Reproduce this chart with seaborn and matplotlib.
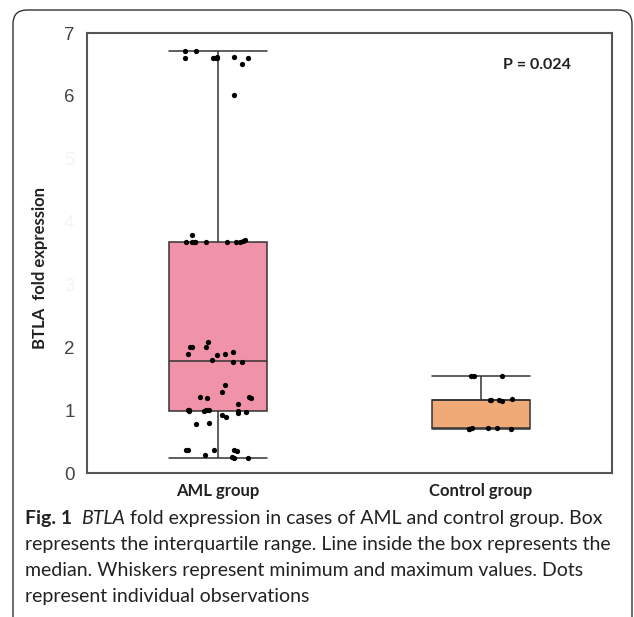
import numpy as np
import pandas as pd
import matplotlib
matplotlib.use("Agg")
import matplotlib.pyplot as plt
import seaborn as sns
from matplotlib.patches import FancyBboxPatch

# values
groups = ["AML group", "Control group"]
aml_values = [6.71, 6.71, 6.61, 6.62, 6.60, 6.61, 6.61, 6.62, 6.61, 6.51, 6.02,
              3.79, 3.71, 3.69, 3.68, 3.68, 3.68, 3.68, 3.68, 3.68, 3.68, 3.68,
              2.09, 2.00, 2.00, 2.00, 1.92, 1.90, 1.89, 1.88, 1.80, 1.77, 1.76,
              1.40, 1.29, 1.21, 1.20, 1.20, 1.21, 1.10,
              1.01, 1.01, 1.00, 1.00, 0.99, 0.99, 0.98, 0.97, 0.96, 0.93,
              0.89, 0.80, 0.78,
              0.37, 0.37, 0.36, 0.37, 0.35, 0.29, 0.25, 0.24, 0.24]
control_values = [1.55, 1.55, 1.54,
                  1.16, 1.16, 1.15, 1.16, 1.17,
                  0.70, 0.71, 0.70, 0.70, 0.71, 0.71]
box_colors = ["#f093a8", "#efaa78"]
y_ticks = [0, 1, 2, 3, 4, 5, 6, 7]
faded_ticks = [3, 4, 5]
p_text = "P = 0.024"
y_label = "BTLA  fold expression"
caption_bold = "Fig. 1"
caption_italic = "BTLA"
caption_rest = " fold expression in cases of AML and control group. Box"
caption_lines = ["represents the interquartile range. Line inside the box represents the",
                 "median. Whiskers represent minimum and maximum values. Dots",
                 "represent individual observations"]

df = pd.DataFrame({
    "group": [groups[0]] * len(aml_values) + [groups[1]] * len(control_values),
    "value": aml_values + control_values,
})

sns.set_style("white")
plt.rcParams["font.family"] = ["Lato", "DejaVu Sans"]

W, H = 634, 617
fig = plt.figure(figsize=(W / 100, H / 100), dpi=100)
ax = fig.add_axes([87 / W, 1 - 473 / H, 525 / W, 440 / H])

sns.boxplot(data=df, x="group", y="value", hue="group", palette=box_colors,
            saturation=1, width=0.375, whis=(0, 100), linewidth=1.1,
            linecolor="#333333", fliersize=0, legend=False, ax=ax)

# caps as wide as the boxes
for line in ax.lines:
    xs, ys = np.asarray(line.get_xdata()), np.asarray(line.get_ydata())
    if len(xs) == 2 and ys[0] == ys[1]:
        c = xs.mean()
        line.set_xdata([c - 0.1875, c + 0.1875])

np.random.seed(11)
sns.stripplot(data=df, x="group", y="value", color="black", size=3.8,
              jitter=0.13, ax=ax, zorder=3)

ax.set_xlim(-0.5, 1.5)
ax.set_ylim(0, 7)
ax.set_yticks(y_ticks)
ax.set_yticklabels([str(t) for t in y_ticks])
ax.tick_params(axis="y", length=7, width=1, color="#555555", pad=2,
               labelsize=13.5, labelcolor="#444444")
ax.tick_params(axis="x", length=0, pad=7, labelsize=12)
for lbl in ax.get_yticklabels():
    lbl.set_fontfamily(["Liberation Sans Narrow", "Liberation Sans"])
for lbl in ax.get_xticklabels():
    lbl.set_fontweight("bold")
    lbl.set_color("#222222")
for tick, val in zip(ax.yaxis.get_major_ticks(), y_ticks):
    if val in faded_ticks:
        tick.label1.set_color("#f4f4f4")
        tick.tick1line.set_color("#eeeeee")

for sp in ax.spines.values():
    sp.set_visible(True)
    sp.set_color("#555555")
    sp.set_linewidth(1.5)

ax.set_xlabel("")
ax.set_ylabel(y_label, fontweight="bold", fontsize=12, color="#222222")
ax.yaxis.set_label_coords(-0.075, 0.466)

ax.text(0.857, 0.927, p_text, transform=ax.transAxes, ha="center", va="center",
        fontsize=11.5, fontweight="bold", color="#222222")

# rounded frame around figure and caption
frame = FancyBboxPatch((13, -30), 619, H - 10 + 30,
                       boxstyle="round,pad=0,rounding_size=14",
                       transform=None, fill=False, edgecolor="#333333", linewidth=1.0)
fig.add_artist(frame)

# caption
cap_size = 14
x0 = 25 / W
fig.canvas.draw()
r = fig.canvas.get_renderer()
t1 = fig.text(x0, 1 - 524 / H, caption_bold, fontsize=cap_size, fontweight="bold",
              color="#222222", va="baseline")
e1 = t1.get_window_extent(r)
t2 = fig.text((e1.x1 + 9) / W, 1 - 524 / H, caption_italic, fontsize=cap_size,
              fontstyle="italic", color="#222222", va="baseline")
e2 = t2.get_window_extent(r)
fig.text(e2.x1 / W, 1 - 524 / H, caption_rest, fontsize=cap_size,
         color="#222222", va="baseline")
for i, line in enumerate(caption_lines):
    fig.text(x0, 1 - (550 + 26 * i) / H, line, fontsize=cap_size,
             color="#222222", va="baseline")

fig.savefig("out.png", dpi=100)
